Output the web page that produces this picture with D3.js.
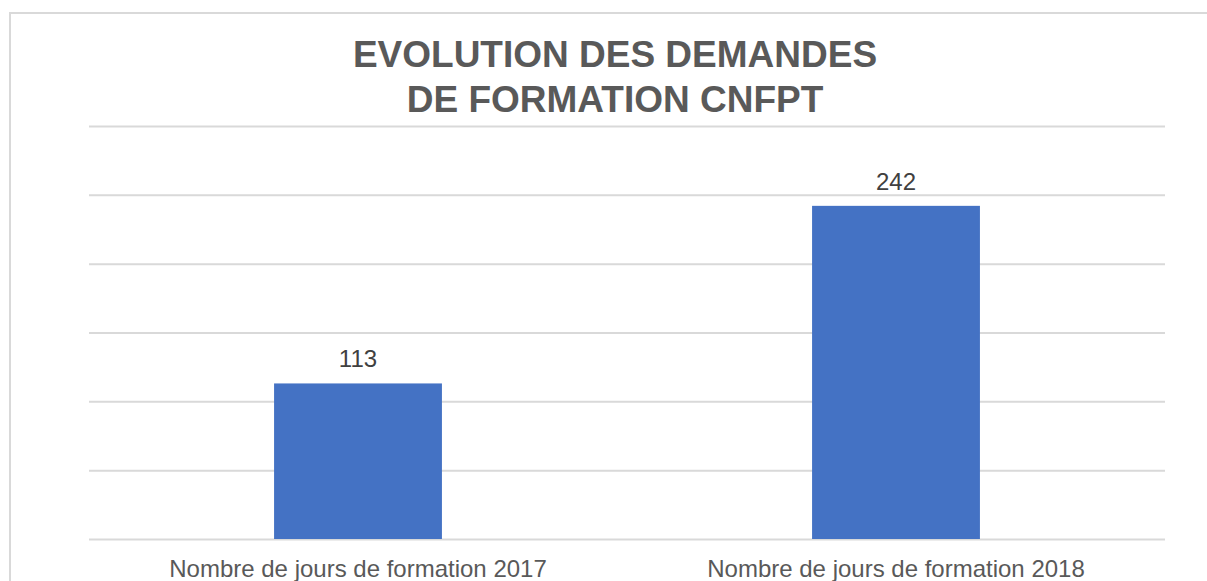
<!DOCTYPE html>
<html><head><meta charset="utf-8">
<script src="https://cdn.jsdelivr.net/npm/d3@7"></script>
<style>body{margin:0;background:#fff}svg{display:block}text{font-family:"Liberation Sans",Arial,sans-serif}</style>
</head><body>
<script>
const categories = ["Nombre de jours de formation 2017", "Nombre de jours de formation 2018"];
const values = [113, 242];
const yTicks = [0, 50, 100, 150, 200, 250, 300];
const titleLines = ["EVOLUTION DES DEMANDES", "DE FORMATION CNFPT"];

const W = 1207, H = 581;
const svg = d3.select("body").append("svg").attr("width", W).attr("height", H);
svg.append("rect").attr("x", 10).attr("y", 13).attr("width", W + 20).attr("height", H + 20)
  .attr("fill", "#fff").attr("stroke", "#d9d9d9").attr("stroke-width", 2);

const m = {left: 89, right: 1165, top: 126, bottom: 539};
const x = d3.scaleBand().domain(categories).range([m.left, m.right]).paddingInner(0.688).paddingOuter(0.344);
const y = d3.scaleLinear().domain([0, 300]).range([m.bottom, m.top]);

const gy = svg.append("g").attr("transform", `translate(${m.left},0)`)
  .call(d3.axisLeft(y).tickValues(yTicks).tickSize(-(m.right - m.left)).tickFormat(""));
gy.select(".domain").remove();
gy.selectAll(".tick line").attr("stroke", "#d9d9d9").attr("stroke-width", 2);

svg.selectAll(".bar").data(values).join("rect")
  .attr("x", (d, i) => x(categories[i])).attr("width", x.bandwidth())
  .attr("y", d => y(d)).attr("height", d => y(0) - y(d)).attr("fill", "#4472c4");

svg.selectAll(".val").data(values).join("text")
  .attr("x", (d, i) => x(categories[i]) + x.bandwidth() / 2).attr("y", d => y(d) - 16)
  .attr("text-anchor", "middle").attr("font-size", 24).attr("fill", "#404040").text(d => d);

const gx = svg.append("g").attr("transform", `translate(0,${m.bottom})`)
  .call(d3.axisBottom(x).tickSize(0).tickPadding(0));
gx.select(".domain").remove();
gx.selectAll(".tick text").attr("font-size", 24).attr("fill", "#595959")
  .attr("dy", 0).attr("y", 38).style("font-family", '"Liberation Sans",Arial,sans-serif');

svg.selectAll(".title").data(titleLines).join("text")
  .attr("x", 615).attr("y", (d, i) => 67 + i * 45).attr("text-anchor", "middle")
  .attr("font-size", 37).attr("font-weight", "bold").attr("fill", "#595959").text(d => d);
</script>
</body></html>
